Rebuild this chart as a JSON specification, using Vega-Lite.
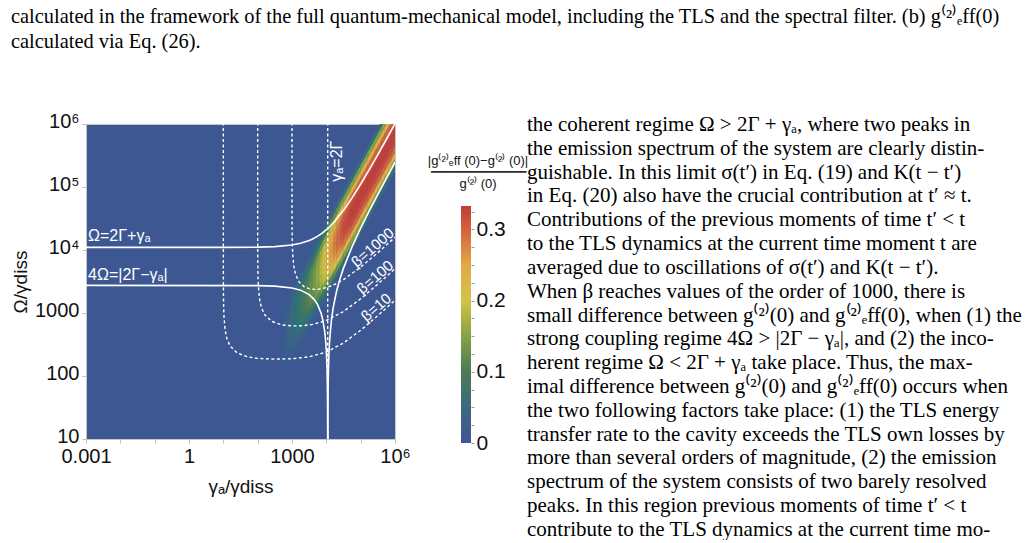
{
"$schema": "https://vega.github.io/schema/vega-lite/v6.json",
"padding": {"left": 11, "top": 7, "right": 0, "bottom": 0},
"background": "white",
"title": {"text": ["calculated in the framework of the full quantum-mechanical model, including the TLS and the spectral filter.  (b) g⁽²⁾ₑff(0)", "calculated via Eq. (26)."], "anchor": "start", "frame": "bounds", "font": "Liberation Serif", "fontSize": 20.4, "fontWeight": "normal", "color": "#000000", "lineHeight": 25, "offset": 58},
"config": {"view": {"stroke": null}},
"datasets": {
"cells": [
{"u":2.85,"v":2.15,"z":0.005},{"u":2.85,"v":2.25,"z":0.014},{"u":2.85,"v":2.35,"z":0.022},{"u":2.85,"v":2.45,"z":0.027},{"u":2.85,"v":2.55,"z":0.029},{"u":2.85,"v":2.65,"z":0.03},{"u":2.85,"v":2.75,"z":0.03},{"u":2.85,"v":2.85,"z":0.029},{"u":2.85,"v":2.95,"z":0.027},{"u":2.85,"v":3.05,"z":0.022},{"u":2.85,"v":3.15,"z":0.014},{"u":2.85,"v":3.25,"z":0.005},
{"u":2.95,"v":2.25,"z":0.008},{"u":2.95,"v":2.35,"z":0.02},{"u":2.95,"v":2.45,"z":0.032},{"u":2.95,"v":2.55,"z":0.04},{"u":2.95,"v":2.65,"z":0.044},{"u":2.95,"v":2.75,"z":0.045},{"u":2.95,"v":2.85,"z":0.045},{"u":2.95,"v":2.95,"z":0.044},{"u":2.95,"v":3.05,"z":0.04},{"u":2.95,"v":3.15,"z":0.032},{"u":2.95,"v":3.25,"z":0.02},{"u":2.95,"v":3.35,"z":0.008},
{"u":3.05,"v":2.35,"z":0.011},{"u":3.05,"v":2.45,"z":0.027},{"u":3.05,"v":2.55,"z":0.043},{"u":3.05,"v":2.65,"z":0.054},{"u":3.05,"v":2.75,"z":0.058},{"u":3.05,"v":2.85,"z":0.06},{"u":3.05,"v":2.95,"z":0.06},{"u":3.05,"v":3.05,"z":0.058},{"u":3.05,"v":3.15,"z":0.054},{"u":3.05,"v":3.25,"z":0.043},{"u":3.05,"v":3.35,"z":0.027},{"u":3.05,"v":3.45,"z":0.011},
{"u":3.15,"v":2.45,"z":0.013},{"u":3.15,"v":2.55,"z":0.034},{"u":3.15,"v":2.65,"z":0.054},{"u":3.15,"v":2.75,"z":0.068},{"u":3.15,"v":2.85,"z":0.073},{"u":3.15,"v":2.95,"z":0.075},{"u":3.15,"v":3.05,"z":0.075},{"u":3.15,"v":3.15,"z":0.073},{"u":3.15,"v":3.25,"z":0.068},{"u":3.15,"v":3.35,"z":0.054},{"u":3.15,"v":3.45,"z":0.034},{"u":3.15,"v":3.55,"z":0.013},
{"u":3.25,"v":2.55,"z":0.016},{"u":3.25,"v":2.65,"z":0.04},{"u":3.25,"v":2.75,"z":0.065},{"u":3.25,"v":2.85,"z":0.081},{"u":3.25,"v":2.95,"z":0.087},{"u":3.25,"v":3.05,"z":0.09},{"u":3.25,"v":3.15,"z":0.09},{"u":3.25,"v":3.25,"z":0.087},{"u":3.25,"v":3.35,"z":0.081},{"u":3.25,"v":3.45,"z":0.065},{"u":3.25,"v":3.55,"z":0.04},{"u":3.25,"v":3.65,"z":0.016},
{"u":3.35,"v":2.65,"z":0.018},{"u":3.35,"v":2.75,"z":0.045},{"u":3.35,"v":2.85,"z":0.072},{"u":3.35,"v":2.95,"z":0.09},{"u":3.35,"v":3.05,"z":0.097},{"u":3.35,"v":3.15,"z":0.1},{"u":3.35,"v":3.25,"z":0.1},{"u":3.35,"v":3.35,"z":0.097},{"u":3.35,"v":3.45,"z":0.09},{"u":3.35,"v":3.55,"z":0.072},{"u":3.35,"v":3.65,"z":0.045},{"u":3.35,"v":3.75,"z":0.018},
{"u":3.45,"v":2.75,"z":0.02},{"u":3.45,"v":2.85,"z":0.05},{"u":3.45,"v":2.95,"z":0.079},{"u":3.45,"v":3.05,"z":0.099},{"u":3.45,"v":3.15,"z":0.107},{"u":3.45,"v":3.25,"z":0.11},{"u":3.45,"v":3.35,"z":0.11},{"u":3.45,"v":3.45,"z":0.107},{"u":3.45,"v":3.55,"z":0.099},{"u":3.45,"v":3.65,"z":0.079},{"u":3.45,"v":3.75,"z":0.05},{"u":3.45,"v":3.85,"z":0.02},
{"u":3.55,"v":2.85,"z":0.022},{"u":3.55,"v":2.95,"z":0.056},{"u":3.55,"v":3.05,"z":0.09},{"u":3.55,"v":3.15,"z":0.113},{"u":3.55,"v":3.25,"z":0.121},{"u":3.55,"v":3.35,"z":0.125},{"u":3.55,"v":3.45,"z":0.125},{"u":3.55,"v":3.55,"z":0.121},{"u":3.55,"v":3.65,"z":0.113},{"u":3.55,"v":3.75,"z":0.09},{"u":3.55,"v":3.85,"z":0.056},{"u":3.55,"v":3.95,"z":0.022},
{"u":3.65,"v":2.95,"z":0.025},{"u":3.65,"v":3.05,"z":0.063},{"u":3.65,"v":3.15,"z":0.101},{"u":3.65,"v":3.25,"z":0.126},{"u":3.65,"v":3.35,"z":0.136},{"u":3.65,"v":3.45,"z":0.14},{"u":3.65,"v":3.55,"z":0.14},{"u":3.65,"v":3.65,"z":0.136},{"u":3.65,"v":3.75,"z":0.126},{"u":3.65,"v":3.85,"z":0.101},{"u":3.65,"v":3.95,"z":0.063},{"u":3.65,"v":4.05,"z":0.025},
{"u":3.75,"v":3.05,"z":0.029},{"u":3.75,"v":3.15,"z":0.072},{"u":3.75,"v":3.25,"z":0.115},{"u":3.75,"v":3.35,"z":0.144},{"u":3.75,"v":3.45,"z":0.155},{"u":3.75,"v":3.55,"z":0.16},{"u":3.75,"v":3.65,"z":0.16},{"u":3.75,"v":3.75,"z":0.155},{"u":3.75,"v":3.85,"z":0.144},{"u":3.75,"v":3.95,"z":0.115},{"u":3.75,"v":4.05,"z":0.072},{"u":3.75,"v":4.15,"z":0.029},
{"u":3.85,"v":3.15,"z":0.033},{"u":3.85,"v":3.25,"z":0.083},{"u":3.85,"v":3.35,"z":0.133},{"u":3.85,"v":3.45,"z":0.167},{"u":3.85,"v":3.55,"z":0.179},{"u":3.85,"v":3.65,"z":0.185},{"u":3.85,"v":3.75,"z":0.185},{"u":3.85,"v":3.85,"z":0.179},{"u":3.85,"v":3.95,"z":0.167},{"u":3.85,"v":4.05,"z":0.133},{"u":3.85,"v":4.15,"z":0.083},{"u":3.85,"v":4.25,"z":0.033},
{"u":3.95,"v":3.25,"z":0.038},{"u":3.95,"v":3.35,"z":0.095},{"u":3.95,"v":3.45,"z":0.151},{"u":3.95,"v":3.55,"z":0.189},{"u":3.95,"v":3.65,"z":0.204},{"u":3.95,"v":3.75,"z":0.21},{"u":3.95,"v":3.85,"z":0.21},{"u":3.95,"v":3.95,"z":0.204},{"u":3.95,"v":4.05,"z":0.189},{"u":3.95,"v":4.15,"z":0.151},{"u":3.95,"v":4.25,"z":0.095},{"u":3.95,"v":4.35,"z":0.038},
{"u":4.05,"v":3.35,"z":0.042},{"u":4.05,"v":3.45,"z":0.106},{"u":4.05,"v":3.55,"z":0.169},{"u":4.05,"v":3.65,"z":0.212},{"u":4.05,"v":3.75,"z":0.228},{"u":4.05,"v":3.85,"z":0.235},{"u":4.05,"v":3.95,"z":0.235},{"u":4.05,"v":4.05,"z":0.228},{"u":4.05,"v":4.15,"z":0.212},{"u":4.05,"v":4.25,"z":0.169},{"u":4.05,"v":4.35,"z":0.106},{"u":4.05,"v":4.45,"z":0.042},
{"u":4.15,"v":3.45,"z":0.047},{"u":4.15,"v":3.55,"z":0.117},{"u":4.15,"v":3.65,"z":0.187},{"u":4.15,"v":3.75,"z":0.234},{"u":4.15,"v":3.85,"z":0.252},{"u":4.15,"v":3.95,"z":0.26},{"u":4.15,"v":4.05,"z":0.26},{"u":4.15,"v":4.15,"z":0.252},{"u":4.15,"v":4.25,"z":0.234},{"u":4.15,"v":4.35,"z":0.187},{"u":4.15,"v":4.45,"z":0.117},{"u":4.15,"v":4.55,"z":0.047},
{"u":4.25,"v":3.55,"z":0.05},{"u":4.25,"v":3.65,"z":0.126},{"u":4.25,"v":3.75,"z":0.202},{"u":4.25,"v":3.85,"z":0.252},{"u":4.25,"v":3.95,"z":0.272},{"u":4.25,"v":4.05,"z":0.28},{"u":4.25,"v":4.15,"z":0.28},{"u":4.25,"v":4.25,"z":0.272},{"u":4.25,"v":4.35,"z":0.252},{"u":4.25,"v":4.45,"z":0.202},{"u":4.25,"v":4.55,"z":0.126},{"u":4.25,"v":4.65,"z":0.05},
{"u":4.35,"v":3.65,"z":0.053},{"u":4.35,"v":3.75,"z":0.133},{"u":4.35,"v":3.85,"z":0.212},{"u":4.35,"v":3.95,"z":0.266},{"u":4.35,"v":4.05,"z":0.286},{"u":4.35,"v":4.15,"z":0.295},{"u":4.35,"v":4.25,"z":0.295},{"u":4.35,"v":4.35,"z":0.286},{"u":4.35,"v":4.45,"z":0.266},{"u":4.35,"v":4.55,"z":0.212},{"u":4.35,"v":4.65,"z":0.133},{"u":4.35,"v":4.75,"z":0.053},
{"u":4.45,"v":3.75,"z":0.056},{"u":4.45,"v":3.85,"z":0.14},{"u":4.45,"v":3.95,"z":0.223},{"u":4.45,"v":4.05,"z":0.279},{"u":4.45,"v":4.15,"z":0.301},{"u":4.45,"v":4.25,"z":0.31},{"u":4.45,"v":4.35,"z":0.31},{"u":4.45,"v":4.45,"z":0.301},{"u":4.45,"v":4.55,"z":0.279},{"u":4.45,"v":4.65,"z":0.223},{"u":4.45,"v":4.75,"z":0.14},{"u":4.45,"v":4.85,"z":0.056},
{"u":4.55,"v":3.85,"z":0.058},{"u":4.55,"v":3.95,"z":0.144},{"u":4.55,"v":4.05,"z":0.23},{"u":4.55,"v":4.15,"z":0.288},{"u":4.55,"v":4.25,"z":0.31},{"u":4.55,"v":4.35,"z":0.32},{"u":4.55,"v":4.45,"z":0.32},{"u":4.55,"v":4.55,"z":0.31},{"u":4.55,"v":4.65,"z":0.288},{"u":4.55,"v":4.75,"z":0.23},{"u":4.55,"v":4.85,"z":0.144},{"u":4.55,"v":4.95,"z":0.058},
{"u":4.65,"v":3.95,"z":0.059},{"u":4.65,"v":4.05,"z":0.146},{"u":4.65,"v":4.15,"z":0.234},{"u":4.65,"v":4.25,"z":0.293},{"u":4.65,"v":4.35,"z":0.315},{"u":4.65,"v":4.45,"z":0.325},{"u":4.65,"v":4.55,"z":0.325},{"u":4.65,"v":4.65,"z":0.315},{"u":4.65,"v":4.75,"z":0.293},{"u":4.65,"v":4.85,"z":0.234},{"u":4.65,"v":4.95,"z":0.146},{"u":4.65,"v":5.05,"z":0.059},
{"u":4.75,"v":4.05,"z":0.059},{"u":4.75,"v":4.15,"z":0.149},{"u":4.75,"v":4.25,"z":0.238},{"u":4.75,"v":4.35,"z":0.297},{"u":4.75,"v":4.45,"z":0.32},{"u":4.75,"v":4.55,"z":0.33},{"u":4.75,"v":4.65,"z":0.33},{"u":4.75,"v":4.75,"z":0.32},{"u":4.75,"v":4.85,"z":0.297},{"u":4.75,"v":4.95,"z":0.238},{"u":4.75,"v":5.05,"z":0.149},{"u":4.75,"v":5.15,"z":0.059},
{"u":4.85,"v":4.15,"z":0.059},{"u":4.85,"v":4.25,"z":0.149},{"u":4.85,"v":4.35,"z":0.238},{"u":4.85,"v":4.45,"z":0.297},{"u":4.85,"v":4.55,"z":0.32},{"u":4.85,"v":4.65,"z":0.33},{"u":4.85,"v":4.75,"z":0.33},{"u":4.85,"v":4.85,"z":0.32},{"u":4.85,"v":4.95,"z":0.297},{"u":4.85,"v":5.05,"z":0.238},{"u":4.85,"v":5.15,"z":0.149},{"u":4.85,"v":5.25,"z":0.059},
{"u":4.95,"v":4.25,"z":0.059},{"u":4.95,"v":4.35,"z":0.149},{"u":4.95,"v":4.45,"z":0.238},{"u":4.95,"v":4.55,"z":0.297},{"u":4.95,"v":4.65,"z":0.32},{"u":4.95,"v":4.75,"z":0.33},{"u":4.95,"v":4.85,"z":0.33},{"u":4.95,"v":4.95,"z":0.32},{"u":4.95,"v":5.05,"z":0.297},{"u":4.95,"v":5.15,"z":0.238},{"u":4.95,"v":5.25,"z":0.149},{"u":4.95,"v":5.35,"z":0.059},
{"u":5.05,"v":4.35,"z":0.059},{"u":5.05,"v":4.45,"z":0.149},{"u":5.05,"v":4.55,"z":0.238},{"u":5.05,"v":4.65,"z":0.297},{"u":5.05,"v":4.75,"z":0.32},{"u":5.05,"v":4.85,"z":0.33},{"u":5.05,"v":4.95,"z":0.33},{"u":5.05,"v":5.05,"z":0.32},{"u":5.05,"v":5.15,"z":0.297},{"u":5.05,"v":5.25,"z":0.238},{"u":5.05,"v":5.35,"z":0.149},{"u":5.05,"v":5.45,"z":0.059},
{"u":5.15,"v":4.45,"z":0.059},{"u":5.15,"v":4.55,"z":0.149},{"u":5.15,"v":4.65,"z":0.238},{"u":5.15,"v":4.75,"z":0.297},{"u":5.15,"v":4.85,"z":0.32},{"u":5.15,"v":4.95,"z":0.33},{"u":5.15,"v":5.05,"z":0.33},{"u":5.15,"v":5.15,"z":0.32},{"u":5.15,"v":5.25,"z":0.297},{"u":5.15,"v":5.35,"z":0.238},{"u":5.15,"v":5.45,"z":0.149},{"u":5.15,"v":5.55,"z":0.059},
{"u":5.25,"v":4.55,"z":0.059},{"u":5.25,"v":4.65,"z":0.149},{"u":5.25,"v":4.75,"z":0.238},{"u":5.25,"v":4.85,"z":0.297},{"u":5.25,"v":4.95,"z":0.32},{"u":5.25,"v":5.05,"z":0.33},{"u":5.25,"v":5.15,"z":0.33},{"u":5.25,"v":5.25,"z":0.32},{"u":5.25,"v":5.35,"z":0.297},{"u":5.25,"v":5.45,"z":0.238},{"u":5.25,"v":5.55,"z":0.149},{"u":5.25,"v":5.65,"z":0.059},
{"u":5.35,"v":4.65,"z":0.059},{"u":5.35,"v":4.75,"z":0.149},{"u":5.35,"v":4.85,"z":0.238},{"u":5.35,"v":4.95,"z":0.297},{"u":5.35,"v":5.05,"z":0.32},{"u":5.35,"v":5.15,"z":0.33},{"u":5.35,"v":5.25,"z":0.33},{"u":5.35,"v":5.35,"z":0.32},{"u":5.35,"v":5.45,"z":0.297},{"u":5.35,"v":5.55,"z":0.238},{"u":5.35,"v":5.65,"z":0.149},{"u":5.35,"v":5.75,"z":0.059},
{"u":5.45,"v":4.75,"z":0.059},{"u":5.45,"v":4.85,"z":0.149},{"u":5.45,"v":4.95,"z":0.238},{"u":5.45,"v":5.05,"z":0.297},{"u":5.45,"v":5.15,"z":0.32},{"u":5.45,"v":5.25,"z":0.33},{"u":5.45,"v":5.35,"z":0.33},{"u":5.45,"v":5.45,"z":0.32},{"u":5.45,"v":5.55,"z":0.297},{"u":5.45,"v":5.65,"z":0.238},{"u":5.45,"v":5.75,"z":0.149},{"u":5.45,"v":5.85,"z":0.059},
{"u":5.55,"v":4.85,"z":0.059},{"u":5.55,"v":4.95,"z":0.149},{"u":5.55,"v":5.05,"z":0.238},{"u":5.55,"v":5.15,"z":0.297},{"u":5.55,"v":5.25,"z":0.32},{"u":5.55,"v":5.35,"z":0.33},{"u":5.55,"v":5.45,"z":0.33},{"u":5.55,"v":5.55,"z":0.32},{"u":5.55,"v":5.65,"z":0.297},{"u":5.55,"v":5.75,"z":0.238},{"u":5.55,"v":5.85,"z":0.149},{"u":5.55,"v":5.95,"z":0.059},
{"u":5.65,"v":4.95,"z":0.059},{"u":5.65,"v":5.05,"z":0.149},{"u":5.65,"v":5.15,"z":0.238},{"u":5.65,"v":5.25,"z":0.297},{"u":5.65,"v":5.35,"z":0.32},{"u":5.65,"v":5.45,"z":0.33},{"u":5.65,"v":5.55,"z":0.33},{"u":5.65,"v":5.65,"z":0.32},{"u":5.65,"v":5.75,"z":0.297},{"u":5.65,"v":5.85,"z":0.238},{"u":5.65,"v":5.95,"z":0.149},{"u":5.65,"v":6.05,"z":0.059},
{"u":5.75,"v":5.05,"z":0.059},{"u":5.75,"v":5.15,"z":0.149},{"u":5.75,"v":5.25,"z":0.238},{"u":5.75,"v":5.35,"z":0.297},{"u":5.75,"v":5.45,"z":0.32},{"u":5.75,"v":5.55,"z":0.33},{"u":5.75,"v":5.65,"z":0.33},{"u":5.75,"v":5.75,"z":0.32},{"u":5.75,"v":5.85,"z":0.297},{"u":5.75,"v":5.95,"z":0.238},{"u":5.75,"v":6.05,"z":0.149},{"u":5.75,"v":6.15,"z":0.059},
{"u":5.85,"v":5.15,"z":0.059},{"u":5.85,"v":5.25,"z":0.149},{"u":5.85,"v":5.35,"z":0.238},{"u":5.85,"v":5.45,"z":0.297},{"u":5.85,"v":5.55,"z":0.32},{"u":5.85,"v":5.65,"z":0.33},{"u":5.85,"v":5.75,"z":0.33},{"u":5.85,"v":5.85,"z":0.32},{"u":5.85,"v":5.95,"z":0.297},{"u":5.85,"v":6.05,"z":0.238},{"u":5.85,"v":6.15,"z":0.149},{"u":5.85,"v":6.25,"z":0.059},
{"u":5.95,"v":5.25,"z":0.059},{"u":5.95,"v":5.35,"z":0.149},{"u":5.95,"v":5.45,"z":0.238},{"u":5.95,"v":5.55,"z":0.297},{"u":5.95,"v":5.65,"z":0.32},{"u":5.95,"v":5.75,"z":0.33},{"u":5.95,"v":5.85,"z":0.33},{"u":5.95,"v":5.95,"z":0.32},{"u":5.95,"v":6.05,"z":0.297},{"u":5.95,"v":6.15,"z":0.238},{"u":5.95,"v":6.25,"z":0.149},{"u":5.95,"v":6.35,"z":0.059}
],
"curves": [
{"k":"A","u":-3,"v":4.041},{"k":"A","u":1,"v":4.041},{"k":"A","u":2,"v":4.045},{"k":"A","u":2.5,"v":4.054},{"k":"A","u":3,"v":4.079},{"k":"A","u":3.25,"v":4.106},{"k":"A","u":3.5,"v":4.151},{"k":"A","u":3.6,"v":4.176},{"k":"A","u":3.75,"v":4.221},{"k":"A","u":3.9,"v":4.277},{"k":"A","u":4,"v":4.322},{"k":"A","u":4.1,"v":4.373},{"k":"A","u":4.25,"v":4.459},{"k":"A","u":4.5,"v":4.63},{"k":"A","u":4.75,"v":4.828},{"k":"A","u":5,"v":5.045},{"k":"A","u":5.25,"v":5.276},{"k":"A","u":5.5,"v":5.515},{"k":"A","u":5.75,"v":5.758},{"k":"A","u":6,"v":6.005},
{"k":"B1","u":-3,"v":3.439},{"k":"B1","u":2,"v":3.435},{"k":"B1","u":2.5,"v":3.427},{"k":"B1","u":3,"v":3.398},{"k":"B1","u":3.25,"v":3.363},{"k":"B1","u":3.5,"v":3.292},{"k":"B1","u":3.65,"v":3.213},{"k":"B1","u":3.75,"v":3.128},{"k":"B1","u":3.85,"v":2.991},{"k":"B1","u":3.9,"v":2.883},{"k":"B1","u":3.95,"v":2.717},{"k":"B1","u":3.98,"v":2.559},{"k":"B1","u":4.0,"v":2.398},{"k":"B1","u":4.02,"v":2.121},{"k":"B1","u":4.03,"v":1.853},{"k":"B1","u":4.035,"v":1.605},{"k":"B1","u":4.04,"v":0.94},
{"k":"B2","u":4.042,"v":0.59},{"k":"B2","u":4.045,"v":1.362},{"k":"B2","u":4.05,"v":1.74},{"k":"B2","u":4.06,"v":2.081},{"k":"B2","u":4.08,"v":2.408},{"k":"B2","u":4.1,"v":2.599},{"k":"B2","u":4.15,"v":2.893},{"k":"B2","u":4.2,"v":3.084},{"k":"B2","u":4.3,"v":3.35},{"k":"B2","u":4.4,"v":3.548},{"k":"B2","u":4.5,"v":3.712},{"k":"B2","u":4.75,"v":4.053},{"k":"B2","u":5,"v":4.347},{"k":"B2","u":5.25,"v":4.62},{"k":"B2","u":5.5,"v":4.883},{"k":"B2","u":5.75,"v":5.139},{"k":"B2","u":6,"v":5.393}
],
"betas": [
{"k":"b10","u":1.0,"v":6.2},{"k":"b10","u":1.0004,"v":3.774},{"k":"b10","u":1.001,"v":3.576},{"k":"b10","u":1.002,"v":3.425},{"k":"b10","u":1.005,"v":3.226},{"k":"b10","u":1.01,"v":3.077},{"k":"b10","u":1.02,"v":2.93},{"k":"b10","u":1.05,"v":2.738},{"k":"b10","u":1.1,"v":2.6},{"k":"b10","u":1.2,"v":2.473},{"k":"b10","u":1.4,"v":2.367},{"k":"b10","u":1.7,"v":2.305},{"k":"b10","u":2,"v":2.28},{"k":"b10","u":2.5,"v":2.268},{"k":"b10","u":3,"v":2.274},{"k":"b10","u":3.5,"v":2.304},{"k":"b10","u":4,"v":2.38},{"k":"b10","u":4.5,"v":2.524},{"k":"b10","u":5,"v":2.726},{"k":"b10","u":5.5,"v":2.958},{"k":"b10","u":6,"v":3.202},
{"k":"b100","u":2.0,"v":6.2},{"k":"b100","u":2.0001,"v":4.577},{"k":"b100","u":2.0005,"v":4.227},{"k":"b100","u":2.001,"v":4.077},{"k":"b100","u":2.002,"v":3.927},{"k":"b100","u":2.005,"v":3.728},{"k":"b100","u":2.01,"v":3.579},{"k":"b100","u":2.02,"v":3.431},{"k":"b100","u":2.05,"v":3.24},{"k":"b100","u":2.1,"v":3.1},{"k":"b100","u":2.2,"v":2.975},{"k":"b100","u":2.4,"v":2.87},{"k":"b100","u":2.7,"v":2.812},{"k":"b100","u":3,"v":2.795},{"k":"b100","u":3.3,"v":2.798},{"k":"b100","u":3.6,"v":2.819},{"k":"b100","u":4,"v":2.882},{"k":"b100","u":4.5,"v":3.024},{"k":"b100","u":5,"v":3.226},{"k":"b100","u":5.5,"v":3.458},{"k":"b100","u":6,"v":3.702},
{"k":"b1000","u":3.0,"v":6.2},{"k":"b1000","u":3.0001,"v":5.091},{"k":"b1000","u":3.0005,"v":4.742},{"k":"b1000","u":3.001,"v":4.592},{"k":"b1000","u":3.002,"v":4.442},{"k":"b1000","u":3.005,"v":4.243},{"k":"b1000","u":3.01,"v":4.094},{"k":"b1000","u":3.02,"v":3.946},{"k":"b1000","u":3.05,"v":3.756},{"k":"b1000","u":3.1,"v":3.619},{"k":"b1000","u":3.2,"v":3.497},{"k":"b1000","u":3.35,"v":3.419},{"k":"b1000","u":3.5,"v":3.386},{"k":"b1000","u":3.65,"v":3.375},{"k":"b1000","u":3.8,"v":3.379},{"k":"b1000","u":4,"v":3.403},{"k":"b1000","u":4.25,"v":3.456},{"k":"b1000","u":4.5,"v":3.531},{"k":"b1000","u":5,"v":3.728},{"k":"b1000","u":5.5,"v":3.958},{"k":"b1000","u":6,"v":4.202},
{"k":"G","u":4.04,"v":1},{"k":"G","u":4.04,"v":6}
],
"labels": [
{"k":"h","t":"Ω=2Γ+γₐ","u":-2.94,"v":4.22},
{"k":"h","t":"4Ω=|2Γ−γₐ|","u":-2.94,"v":3.6},
{"k":"r","t":"γₐ=2Γ","u":4.31,"v":5.41},
{"k":"b","t":"β=1000","u":5.35,"v":4.04},
{"k":"b","t":"β=100","u":5.42,"v":3.57},
{"k":"b","t":"β=10","u":5.45,"v":3.09}
],
"frac": [
{"line":1,"s":13,"t":"|g⁽²⁾ₑff (0)−g⁽²⁾ (0)|"},
{"line":2,"s":9,"t":"━━━━━━━━━━━━━━━━━━━"},
{"line":3,"s":13,"t":"g⁽²⁾ (0)"}
],
"para": [
{"line":1,"t":"the coherent regime Ω > 2Γ + γₐ, where two peaks in"},
{"line":2,"t":"the emission spectrum of the system are clearly distin-"},
{"line":3,"t":"guishable. In this limit σ(t′) in Eq. (19) and K(t − t′)"},
{"line":4,"t":"in Eq. (20) also have the crucial contribution at t′ ≈ t."},
{"line":5,"t":"Contributions of the previous moments of time t′ < t"},
{"line":6,"t":"to the TLS dynamics at the current time moment t are"},
{"line":7,"t":"averaged due to oscillations of σ(t′) and K(t − t′)."},
{"line":8,"t":" When β reaches values of the order of 1000, there is"},
{"line":9,"t":"small difference between g⁽²⁾(0) and g⁽²⁾ₑff(0), when (1) the"},
{"line":10,"t":"strong coupling regime 4Ω > |2Γ − γₐ|, and (2) the inco-"},
{"line":11,"t":"herent regime Ω < 2Γ + γₐ take place. Thus, the max-"},
{"line":12,"t":"imal difference between g⁽²⁾(0) and g⁽²⁾ₑff(0) occurs when"},
{"line":13,"t":"the two following factors take place: (1) the TLS energy"},
{"line":14,"t":"transfer rate to the cavity exceeds the TLS own losses by"},
{"line":15,"t":"more than several orders of magnitude, (2) the emission"},
{"line":16,"t":"spectrum of the system consists of two barely resolved"},
{"line":17,"t":"peaks. In this region previous moments of time t′ < t"},
{"line":18,"t":"contribute to the TLS dynamics at the current time mo-"}
]
},
"bounds": "flush",
"spacing": 66,
"hconcat": [
{
"width": 309, "height": 315,
"view": {"fill": "#3d5793", "stroke": "#c8c8c8", "strokeWidth": 1},
"encoding": {
"x": {"field": "u", "type": "quantitative", "scale": {"domain": [-3, 6], "nice": false, "zero": false},
 "axis": {"title": "γₐ/γdiss", "values": [-3,-2,-1,0,1,2,3,4,5,6], "labelExpr": "datum.value==-3?'0.001':datum.value==0?'1':datum.value==3?'1000':datum.value==6?'10⁶':''", "grid": false, "domain": false, "tickColor": "#c0c0c0", "tickSize": 4, "labelFont": "Liberation Sans", "labelFontSize": 20, "labelColor": "#111111", "labelPadding": 3, "labelFlush": false, "labelOverlap": false, "titleFont": "Liberation Sans", "titleFontSize": 19, "titleFontWeight": "normal", "titleColor": "#111111", "titlePadding": 11}},
"y": {"field": "v", "type": "quantitative", "scale": {"domain": [1, 6], "nice": false, "zero": false},
 "axis": {"title": "Ω/γdiss", "values": [1,2,3,4,5,6], "labelExpr": "datum.value==1?'10':datum.value==2?'100':datum.value==3?'1000':datum.value==4?'10⁴':datum.value==5?'10⁵':'10⁶'", "grid": false, "domain": false, "tickColor": "#c0c0c0", "tickSize": 4, "labelFont": "Liberation Sans", "labelFontSize": 20, "labelColor": "#111111", "labelPadding": 3, "labelOffset": -3, "labelFlush": false, "labelOverlap": false, "titleFont": "Liberation Sans", "titleFontSize": 19, "titleFontWeight": "normal", "titleColor": "#111111", "titlePadding": 4}}
},
"layer": [
{"data": {"name": "cells"}, "mark": {"type": "point", "shape": "M-1,0.035L1,-3.635L1,-0.035L-1,3.635Z", "filled": true, "opacity": 1, "size": 13, "strokeWidth": 0, "clip": true},
 "encoding": {"color": {"field": "z", "type": "quantitative", "scale": {"domain": [0, 0.05, 0.1, 0.15, 0.2, 0.25, 0.3, 0.333], "range": ["#3d5793", "#3f6880", "#4b7b55", "#86a244", "#d2c445", "#e2a947", "#d3613f", "#c13b38"], "clamp": true}, "legend": null}}},
{"data": {"name": "betas"}, "mark": {"type": "line", "stroke": "white", "strokeWidth": 1.4, "strokeDash": [3, 2.5], "clip": true}, "encoding": {"detail": {"field": "k", "type": "nominal"}}},
{"data": {"name": "curves"}, "mark": {"type": "line", "stroke": "white", "strokeWidth": 1.6, "clip": true}, "encoding": {"detail": {"field": "k", "type": "nominal"}}},
{"data": {"name": "labels"}, "transform": [{"filter": "datum.k=='h'"}], "mark": {"type": "text", "align": "left", "baseline": "middle", "color": "white", "font": "Liberation Sans", "fontSize": 16}, "encoding": {"text": {"field": "t", "type": "nominal"}}},
{"data": {"name": "labels"}, "transform": [{"filter": "datum.k=='r'"}], "mark": {"type": "text", "align": "center", "baseline": "middle", "angle": 270, "color": "white", "font": "Liberation Sans", "fontSize": 16}, "encoding": {"text": {"field": "t", "type": "nominal"}}},
{"data": {"name": "labels"}, "transform": [{"filter": "datum.k=='b'"}], "mark": {"type": "text", "align": "center", "baseline": "middle", "angle": 319, "color": "white", "font": "Liberation Sans", "fontSize": 15}, "encoding": {"text": {"field": "t", "type": "nominal"}}}
]
},
{
"bounds": "flush",
"spacing": 66,
"hconcat": [
{
"bounds": "flush",
"spacing": 12,
"vconcat": [
{"width": 10, "height": 70, "data": {"name": "frac"},
 "mark": {"type": "text", "align": "center", "baseline": "middle", "font": "Liberation Sans", "color": "#111111", "dx": 12},
 "encoding": {"x": {"datum": 0.5, "type": "quantitative", "scale": {"domain": [0, 1]}, "axis": null},
  "y": {"field": "line", "type": "quantitative", "scale": {"domain": [-2.217, 3.87], "nice": false, "zero": false, "reverse": true}, "axis": null},
  "size": {"field": "s", "type": "quantitative", "scale": null},
  "text": {"field": "t", "type": "nominal"}}},
{"width": 10, "height": 237, "data": {"values": [{"lo": 0, "hi": 0.333}]},
 "mark": {"type": "rect", "color": {"gradient": "linear", "x1": 0, "y1": 1, "x2": 0, "y2": 0, "stops": [{"offset": 0, "color": "#3d5793"}, {"offset": 0.15, "color": "#3f6880"}, {"offset": 0.3, "color": "#4b7b55"}, {"offset": 0.45, "color": "#86a244"}, {"offset": 0.6, "color": "#d2c445"}, {"offset": 0.75, "color": "#e2a947"}, {"offset": 0.9, "color": "#d3613f"}, {"offset": 1, "color": "#c13b38"}]}},
 "encoding": {"y": {"field": "lo", "type": "quantitative", "scale": {"domain": [0, 0.333], "nice": false},
   "axis": {"orient": "right", "title": null, "values": [0,0.025,0.05,0.075,0.1,0.125,0.15,0.175,0.2,0.225,0.25,0.275,0.3,0.325], "labelExpr": "datum.value==0?'0':datum.value==0.1?'0.1':datum.value==0.2?'0.2':datum.value==0.3?'0.3':''", "domain": false, "grid": false, "tickColor": "#9a9a9a", "tickSize": 3, "labelFont": "Liberation Sans", "labelFontSize": 21, "labelColor": "#111111", "labelPadding": 2, "labelFlush": false, "labelOverlap": false}},
  "y2": {"field": "hi"}}}
]
},
{"width": 495, "height": 415, "data": {"name": "para"},
 "mark": {"type": "text", "align": "left", "baseline": "middle", "font": "Liberation Serif", "fontSize": 21, "color": "#000000"},
 "encoding": {"x": {"datum": 0, "type": "quantitative", "scale": {"domain": [0, 1]}, "axis": null},
  "y": {"field": "line", "type": "quantitative", "scale": {"domain": [0.958, 18.38], "nice": false, "zero": false, "reverse": true}, "axis": null},
  "text": {"field": "t", "type": "nominal"}}}
]
}
]
}
